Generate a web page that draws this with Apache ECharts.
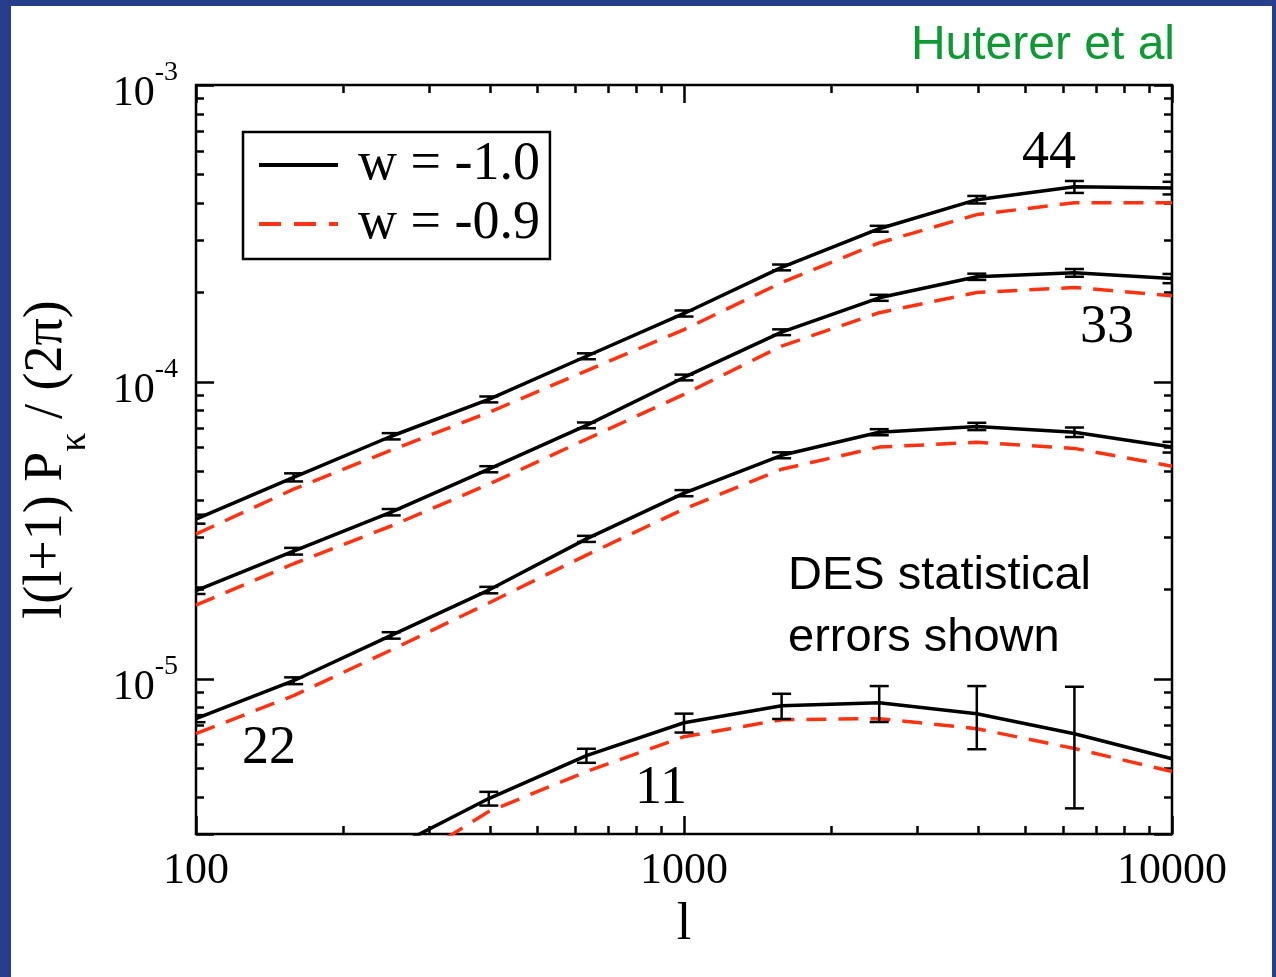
<!DOCTYPE html>
<html><head><meta charset="utf-8">
<script src="https://cdn.jsdelivr.net/npm/echarts@6/dist/echarts.min.js"></script>
<style>
html,body{margin:0;padding:0;background:#273e8c;width:1276px;height:977px;overflow:hidden}
#c{position:absolute;left:11px;top:6px;width:1261px;height:971px;background:#fff}
</style>
</head><body><div id="c"></div>
<script>
// multipole l
const ell = [100, 158.5, 251.2, 398.1, 631, 1000, 1585, 2512, 3981, 6310, 10000];

// tomographic bin 44
const p44_w10 = [3.45e-5, 4.77e-5, 6.56e-5, 8.73e-5, 1.22e-4, 1.70e-4, 2.43e-4, 3.28e-4, 4.11e-4, 4.54e-4, 4.50e-4];
const p44_w09 = [3.07e-5, 4.35e-5, 5.89e-5, 7.89e-5, 1.09e-4, 1.50e-4, 2.16e-4, 2.94e-4, 3.66e-4, 4.01e-4, 4.01e-4];
const e44     = [1.2e-6, 1.5e-6, 1.6e-6, 2.0e-6, 2.8e-6, 4.0e-6, 5.5e-6, 7.5e-6, 1.2e-5, 2.1e-5, 2.2e-5];
// bin 33
const p33_w10 = [1.98e-5, 2.69e-5, 3.64e-5, 5.08e-5, 7.14e-5, 1.035e-4, 1.47e-4, 1.92e-4, 2.26e-4, 2.33e-4, 2.23e-4];
const p33_w09 = [1.77e-5, 2.44e-5, 3.27e-5, 4.52e-5, 6.41e-5, 9.08e-5, 1.32e-4, 1.71e-4, 2.00e-4, 2.08e-4, 1.95e-4];
const e33     = [5e-7, 7e-7, 9e-7, 1.2e-6, 1.6e-6, 2.3e-6, 3.3e-6, 4.5e-6, 5.5e-6, 7e-6, 8e-6];
// bin 22
const p22_w10 = [7.34e-6, 9.85e-6, 1.40e-5, 1.99e-5, 2.96e-5, 4.22e-5, 5.66e-5, 6.77e-5, 7.08e-5, 6.77e-5, 6.03e-5];
const p22_w09 = [6.53e-6, 8.77e-6, 1.25e-5, 1.80e-5, 2.61e-5, 3.73e-5, 5.08e-5, 6.03e-5, 6.26e-5, 5.97e-5, 5.20e-5];
const e22     = [2e-7, 2.6e-7, 3.5e-7, 5e-7, 7e-7, 1e-6, 1.3e-6, 1.6e-6, 2e-6, 2.5e-6, 2.5e-6];
// bin 11
const p11_w10 = [1.2e-6, 1.75e-6, 2.68e-6, 3.95e-6, 5.51e-6, 7.11e-6, 8.11e-6, 8.30e-6, 7.62e-6, 6.53e-6, 5.38e-6];
const p11_w09 = [0.95e-6, 1.45e-6, 2.23e-6, 3.57e-6, 4.87e-6, 6.38e-6, 7.28e-6, 7.34e-6, 6.79e-6, 5.82e-6, 4.87e-6];
const e11     = [null, null, null, 2.1e-7, 3.0e-7, 5.2e-7, 7.9e-7, 1.15e-6, 1.83e-6, 2.87e-6, null];

// axis ticks
const xMinorTicks = [200, 300, 400, 500, 600, 700, 800, 900, 2000, 3000, 4000, 5000, 6000, 7000, 8000, 9000];
const yMinorTicks = [4e-6, 5e-6, 6e-6, 7e-6, 8e-6, 9e-6, 2e-5, 3e-5, 4e-5, 5e-5, 6e-5, 7e-5, 8e-5, 9e-5,
                     2e-4, 3e-4, 4e-4, 5e-4, 6e-4, 7e-4, 8e-4, 9e-4];
const xMin = 100, xMax = 10000, yMin = 3e-6, yMax = 1e-3;

const legendNames = ['w = -1.0', 'w = -0.9'];
const binLabels = ['44', '33', '22', '11'];

const SERIF = '"Liberation Serif", "Times New Roman", serif';
const SANS = '"Liberation Sans", Arial, sans-serif';
const RED = '#ff3311';

function pairs(vals) { return vals.map((v, i) => [ell[i], v]); }
function errData(vals, errs) {
  const out = [];
  vals.forEach((v, i) => { if (errs[i] != null) out.push([ell[i], v - errs[i], v + errs[i]]); });
  return out;
}
function solid(vals) {
  return { type: 'line', name: legendNames[0], data: pairs(vals), xAxisIndex: 0, yAxisIndex: 0,
    symbol: 'none', showSymbol: false, clip: true, z: 3,
    lineStyle: { color: '#000', width: 3.5 }, itemStyle: { color: '#000' } };
}
function dashed(vals) {
  return { type: 'line', name: legendNames[1], data: pairs(vals), xAxisIndex: 0, yAxisIndex: 0,
    symbol: 'none', showSymbol: false, clip: true, z: 2,
    lineStyle: { color: RED, width: 3.5, type: [20, 12] }, itemStyle: { color: RED } };
}
function errBars(vals, errs) {
  return { type: 'custom', coordinateSystem: 'cartesian2d', xAxisIndex: 0, yAxisIndex: 0,
    data: errData(vals, errs), encode: { x: 0, y: [1, 2] }, clip: true, z: 4, silent: true,
    renderItem: function (params, api) {
      const x = api.value(0), lo = api.value(1), hi = api.value(2);
      const a = api.coord([x, hi]), b = api.coord([x, lo]);
      const hw = 9.5;
      const st = { stroke: '#000', lineWidth: 2.5 };
      return { type: 'group', children: [
        { type: 'line', shape: { x1: a[0], y1: a[1], x2: b[0], y2: b[1] }, style: st },
        { type: 'line', shape: { x1: a[0] - hw, y1: a[1], x2: a[0] + hw, y2: a[1] }, style: st },
        { type: 'line', shape: { x1: b[0] - hw, y1: b[1], x2: b[0] + hw, y2: b[1] }, style: st }
      ]};
    }
  };
}

function baseAxis(kind, pos) {
  const isX = kind === 'x';
  return { type: 'log', logBase: 10, min: isX ? xMin : yMin, max: isX ? xMax : yMax, position: pos,
    axisLine: { show: false, onZero: false }, splitLine: { show: false }, minorTick: { show: false },
    axisLabel: { show: false }, axisPointer: { show: false } };
}
function majorAxis(kind, pos) {
  const a = baseAxis(kind, pos);
  a.axisTick = { show: true, inside: true, length: 18, lineStyle: { color: '#000', width: 2.5 } };
  return a;
}
function minorAxis(kind, pos, vals) {
  const a = baseAxis(kind, pos);
  a.axisTick = { show: true, inside: true, length: 8, customValues: vals, lineStyle: { color: '#000', width: 2.5 } };
  return a;
}

const xMain = majorAxis('x', 'bottom');
xMain.axisLabel = { show: true, margin: 15, fontFamily: SERIF, fontSize: 44, color: '#000',
  formatter: v => String(Math.round(v)) };
xMain.name = 'l';
xMain.nameLocation = 'middle';
xMain.nameGap = 65;
xMain.nameTextStyle = { fontFamily: SERIF, fontSize: 52, color: '#000' };

const yMain = majorAxis('y', 'left');
yMain.axisLabel = { show: true, margin: 18, color: '#000', padding: [18, 0, 0, 0],
  formatter: function (v) {
    const lg = Math.log10(v), e = Math.round(lg);
    if (Math.abs(lg - e) > 1e-6) return '';
    return '{a|10}{b|' + e + '}';
  },
  rich: {
    a: { fontFamily: SERIF, fontSize: 42, lineHeight: 42, color: '#000', verticalAlign: 'bottom' },
    b: { fontFamily: SERIF, fontSize: 28, lineHeight: 28, color: '#000', verticalAlign: 'bottom', padding: [0, 0, 28, 0] }
  }
};
yMain.name = '{a|l(l+1) P}{s|κ}{a| / (2π)}';
yMain.nameLocation = 'middle';
yMain.nameRotate = 90;
yMain.nameGap = 102;
yMain.nameTextStyle = { fontFamily: SERIF, fontSize: 54, color: '#000',
  rich: {
    a: { fontFamily: SERIF, fontSize: 54, lineHeight: 54, color: '#000', verticalAlign: 'bottom', padding: [0, 0, 20, 0] },
    s: { fontFamily: SERIF, fontSize: 38, lineHeight: 38, color: '#000', verticalAlign: 'bottom' }
  }
};

const option = {
  animation: false,
  backgroundColor: '#fff',
  textStyle: { fontFamily: SERIF },
  grid: { left: 185, top: 79, width: 976, height: 749, show: true, borderColor: '#000', borderWidth: 2.5,
    backgroundColor: 'transparent', containLabel: false, outerBoundsMode: 'none' },
  legend: {
    data: [
      { name: legendNames[0], lineStyle: { color: '#000', width: 4, type: 'solid' } },
      { name: legendNames[1], lineStyle: { color: RED, width: 4, type: [22, 13] } }
    ],
    orient: 'vertical', left: 232, top: 126,
    itemWidth: 79, itemHeight: 14, itemGap: 5, padding: [6, 10, 8, 14],
    borderColor: '#000', borderWidth: 2.5, backgroundColor: '#fff', selectedMode: false,
    itemStyle: { opacity: 0 },
    textStyle: { fontFamily: SERIF, fontSize: 54, color: '#000', lineHeight: 44, padding: [0, 0, 0, 15] }
  },
  xAxis: [xMain, minorAxis('x', 'bottom', xMinorTicks), majorAxis('x', 'top'), minorAxis('x', 'top', xMinorTicks)],
  yAxis: [yMain, minorAxis('y', 'left', yMinorTicks), majorAxis('y', 'right'), minorAxis('y', 'right', yMinorTicks)],
  series: [
    dashed(p44_w09), dashed(p33_w09), dashed(p22_w09), dashed(p11_w09),
    solid(p44_w10), solid(p33_w10), solid(p22_w10), solid(p11_w10),
    errBars(p44_w10, e44), errBars(p33_w10, e33), errBars(p22_w10, e22), errBars(p11_w10, e11)
  ],
  graphic: [
    { type: 'text', x: 1164, y: 40, style: { text: 'Huterer et al', font: '48px ' + SANS, fill: '#0e9a33',
      align: 'right', verticalAlign: 'middle', textAlign: 'right', textVerticalAlign: 'middle' } },
    { type: 'text', x: 1038, y: 148, style: { text: binLabels[0], font: '54px ' + SERIF, fill: '#000',
      align: 'center', verticalAlign: 'middle', textAlign: 'center', textVerticalAlign: 'middle' } },
    { type: 'text', x: 1096, y: 322, style: { text: binLabels[1], font: '54px ' + SERIF, fill: '#000',
      align: 'center', verticalAlign: 'middle', textAlign: 'center', textVerticalAlign: 'middle' } },
    { type: 'text', x: 258, y: 743, style: { text: binLabels[2], font: '54px ' + SERIF, fill: '#000',
      align: 'center', verticalAlign: 'middle', textAlign: 'center', textVerticalAlign: 'middle' } },
    { type: 'text', x: 650, y: 783, style: { text: binLabels[3], font: '54px ' + SERIF, fill: '#000',
      align: 'center', verticalAlign: 'middle', textAlign: 'center', textVerticalAlign: 'middle' } },
    { type: 'text', x: 777, y: 601, style: { text: 'DES statistical\nerrors shown', font: '47px ' + SANS, fill: '#000',
      lineHeight: 62, align: 'left', verticalAlign: 'middle', textAlign: 'left', textVerticalAlign: 'middle' } }
  ]
};

const chart = echarts.init(document.getElementById('c'), null, { renderer: 'canvas' });
chart.setOption(option);
</script>
</body></html>
